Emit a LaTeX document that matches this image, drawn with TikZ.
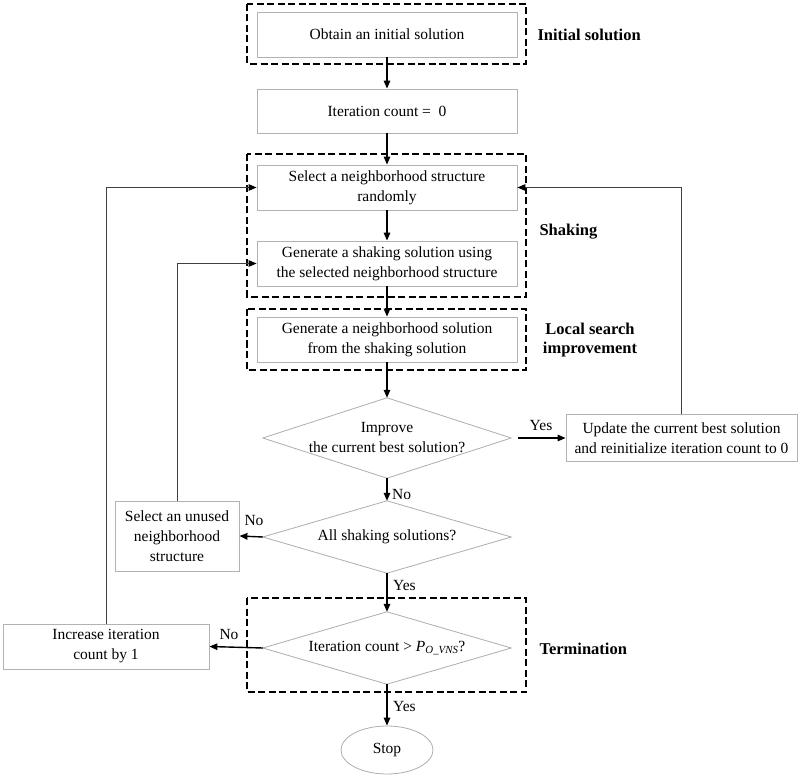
\documentclass[tikz,border=0pt]{standalone}
\usepackage{fontspec}
\setmainfont{Liberation Serif}
\usetikzlibrary{arrows.meta,shapes.geometric}
\begin{document}
\begin{tikzpicture}[x=1pt,y=-1pt,
  txt/.style={font=\fontsize{15.5}{20}\selectfont},
  box/.style={txt, draw=black!30, line width=0.8pt, rectangle, align=center, inner sep=0pt,
    minimum width=260pt, minimum height=45pt},
  decbox/.style={txt, rectangle, align=center, inner sep=0pt, minimum width=248pt, minimum height=72pt},
  dshape/.style={draw=black!32, line width=0.8pt},
  dashbox/.style={draw=black, line width=1.8pt, dash pattern=on 7pt off 3.5pt},
  arr/.style={draw=black, line width=1.4pt, -{Triangle[length=8pt,width=6.5pt]}},
  fb/.style={draw=black!75, line width=1pt, -{Triangle[length=8pt,width=6.5pt,color=black]}},
  phase/.style={font=\fontsize{16.5}{19}\selectfont\bfseries, align=center},
  elab/.style={txt, inner sep=0pt}
]
\useasboundingbox (0,0) rectangle (800,775);

% main column
\node[box] (b1) at (387,34.5) {Obtain an initial solution};
\node[box, minimum height=44pt] (b2) at (387,111) {Iteration count =~ 0};
\node[box] (b3) at (387,187.5) {Select a neighborhood structure\\randomly};
\node[box] (b4) at (387,263.5) {Generate a shaking solution using\\the selected neighborhood structure};
\node[box] (b5) at (387,339.5) {Generate a neighborhood solution\\from the shaking solution};
\node[decbox, minimum height=80pt] (d1) at (387,438) {Improve\\the current best solution?};
\node[decbox] (d2) at (387,537) {All shaking solutions?};
\node[decbox] (d3) at (387,648) {Iteration count \textgreater{} \textit{P}\textsubscript{\textit{O\_VNS}}?};
\node[txt, draw=black!32, line width=0.8pt, ellipse, inner sep=0pt, minimum width=92pt, minimum height=48pt] (stop) at (387,750) {Stop};

\draw[dshape] (d1.north) -- (d1.east) -- (d1.south) -- (d1.west) -- cycle;
\draw[dshape] (d2.north) -- (d2.east) -- (d2.south) -- (d2.west) -- cycle;
\draw[dshape] (d3.north) -- (d3.east) -- (d3.south) -- (d3.west) -- cycle;

% side boxes
\node[box, minimum width=231pt, minimum height=47pt] (upd) at (681.5,438) {Update the current best solution\\and reinitialize iteration count to 0};
\node[box, minimum width=124pt, minimum height=70pt] (lb) at (177,536) {Select an unused\\neighborhood\\structure};
\node[box, minimum width=206pt, minimum height=45pt] (inc) at (106,646.5) {Increase iteration\\count by 1};

% dashed phase boxes
\draw[dashbox] (247,4) rectangle (526,64);
\draw[dashbox] (247,154) rectangle (526,297);
\draw[dashbox] (247,309) rectangle (526,370);
\draw[dashbox] (247,598) rectangle (526,692);

% phase labels
\node[phase, anchor=west] (p1) at (534,35) {Initial solution};
\node[phase, anchor=west] (p2) at (536,232) {Shaking};
\node[phase] (p3) at (590,340) {Local search\\improvement};
\node[phase, anchor=west] (p4) at (536,649) {Termination};

% main arrows
\draw[arr] (b1) -- (b2);
\draw[arr] (b2) -- (b3);
\draw[arr] (b3) -- (b4);
\draw[arr] (b4) -- (b5);
\draw[arr] (b5) -- (d1.north);
\draw[arr] (d1.south) -- (d2.north);
\draw[arr] (d2.south) -- (d3.north);
\draw[arr] (d3.south) -- (stop);
\draw[arr] ([xshift=7pt]d1.east) -- (upd.west);
\draw[arr] (d2.west) -- (lb.east);
\draw[arr] (d3.west) -- (inc.east);

% feedback lines
\draw[fb] (upd.north) |- (b3.east);
\draw[fb] (inc.north) |- (b3.west);
\draw[fb] (lb.north) |- (b4.west);

% edge labels
\node[elab] (y1) at (541,425) {Yes};
\node[elab, anchor=west] (n1) at (392,494) {No};
\node[elab] (n2) at (254,520) {No};
\node[elab, anchor=west] (y2) at (393,585) {Yes};
\node[elab] (n3) at (229,634) {No};
\node[elab, anchor=west] (y3) at (393,706) {Yes};
\end{tikzpicture}
\end{document}
